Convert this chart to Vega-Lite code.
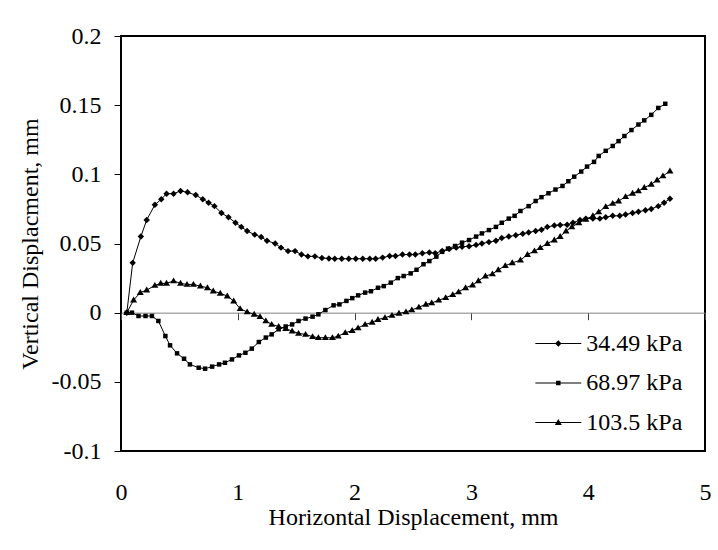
{
  "$schema": "https://vega.github.io/schema/vega-lite/v6.json",
  "width": 584,
  "height": 415,
  "autosize": "none",
  "padding": {"left": 121, "top": 36, "right": 13, "bottom": 99},
  "background": "white",
  "config": {
    "view": {"stroke": "black", "strokeWidth": 2},
    "font": "Liberation Serif",
    "axis": {"grid": false, "labelFont": "Liberation Serif", "titleFont": "Liberation Serif", "labelFontSize": 24, "titleFontSize": 24, "titleFontWeight": "normal", "labelColor": "black", "titleColor": "black"},
    "legend": {"labelFont": "Liberation Serif"}
  },
  "data": {"values": [
    {"series":"34.49 kPa","x":0.05,"y":0},
    {"series":"34.49 kPa","x":0.10,"y":0.036},
    {"series":"34.49 kPa","x":0.17,"y":0.055},
    {"series":"34.49 kPa","x":0.22,"y":0.067},
    {"series":"34.49 kPa","x":0.29,"y":0.078},
    {"series":"34.49 kPa","x":0.345,"y":0.082},
    {"series":"34.49 kPa","x":0.39,"y":0.086},
    {"series":"34.49 kPa","x":0.45,"y":0.086},
    {"series":"34.49 kPa","x":0.51,"y":0.088},
    {"series":"34.49 kPa","x":0.57,"y":0.087},
    {"series":"34.49 kPa","x":0.64,"y":0.085},
    {"series":"34.49 kPa","x":0.70,"y":0.082},
    {"series":"34.49 kPa","x":0.75,"y":0.0795},
    {"series":"34.49 kPa","x":0.80,"y":0.077},
    {"series":"34.49 kPa","x":0.86,"y":0.072},
    {"series":"34.49 kPa","x":0.92,"y":0.069},
    {"series":"34.49 kPa","x":0.98,"y":0.065},
    {"series":"34.49 kPa","x":1.03,"y":0.062},
    {"series":"34.49 kPa","x":1.08,"y":0.059},
    {"series":"34.49 kPa","x":1.145,"y":0.0564},
    {"series":"34.49 kPa","x":1.20,"y":0.0547},
    {"series":"34.49 kPa","x":1.25,"y":0.052},
    {"series":"34.49 kPa","x":1.32,"y":0.050},
    {"series":"34.49 kPa","x":1.37,"y":0.047},
    {"series":"34.49 kPa","x":1.43,"y":0.0445},
    {"series":"34.49 kPa","x":1.49,"y":0.0445},
    {"series":"34.49 kPa","x":1.545,"y":0.042},
    {"series":"34.49 kPa","x":1.60,"y":0.0407},
    {"series":"34.49 kPa","x":1.66,"y":0.0407},
    {"series":"34.49 kPa","x":1.72,"y":0.0395},
    {"series":"34.49 kPa","x":1.78,"y":0.0392},
    {"series":"34.49 kPa","x":1.83,"y":0.039},
    {"series":"34.49 kPa","x":1.89,"y":0.039},
    {"series":"34.49 kPa","x":1.95,"y":0.039},
    {"series":"34.49 kPa","x":2.01,"y":0.039},
    {"series":"34.49 kPa","x":2.07,"y":0.039},
    {"series":"34.49 kPa","x":2.13,"y":0.039},
    {"series":"34.49 kPa","x":2.18,"y":0.039},
    {"series":"34.49 kPa","x":2.24,"y":0.0398},
    {"series":"34.49 kPa","x":2.30,"y":0.041},
    {"series":"34.49 kPa","x":2.35,"y":0.041},
    {"series":"34.49 kPa","x":2.41,"y":0.042},
    {"series":"34.49 kPa","x":2.47,"y":0.042},
    {"series":"34.49 kPa","x":2.52,"y":0.042},
    {"series":"34.49 kPa","x":2.58,"y":0.043},
    {"series":"34.49 kPa","x":2.64,"y":0.0435},
    {"series":"34.49 kPa","x":2.69,"y":0.043},
    {"series":"34.49 kPa","x":2.75,"y":0.0446},
    {"series":"34.49 kPa","x":2.81,"y":0.046},
    {"series":"34.49 kPa","x":2.87,"y":0.047},
    {"series":"34.49 kPa","x":2.92,"y":0.0477},
    {"series":"34.49 kPa","x":2.98,"y":0.048},
    {"series":"34.49 kPa","x":3.04,"y":0.049},
    {"series":"34.49 kPa","x":3.09,"y":0.050},
    {"series":"34.49 kPa","x":3.15,"y":0.051},
    {"series":"34.49 kPa","x":3.21,"y":0.052},
    {"series":"34.49 kPa","x":3.26,"y":0.054},
    {"series":"34.49 kPa","x":3.32,"y":0.055},
    {"series":"34.49 kPa","x":3.38,"y":0.056},
    {"series":"34.49 kPa","x":3.44,"y":0.057},
    {"series":"34.49 kPa","x":3.49,"y":0.058},
    {"series":"34.49 kPa","x":3.55,"y":0.059},
    {"series":"34.49 kPa","x":3.60,"y":0.060},
    {"series":"34.49 kPa","x":3.65,"y":0.062},
    {"series":"34.49 kPa","x":3.71,"y":0.063},
    {"series":"34.49 kPa","x":3.76,"y":0.0634},
    {"series":"34.49 kPa","x":3.82,"y":0.0635},
    {"series":"34.49 kPa","x":3.87,"y":0.065},
    {"series":"34.49 kPa","x":3.93,"y":0.067},
    {"series":"34.49 kPa","x":3.98,"y":0.068},
    {"series":"34.49 kPa","x":4.04,"y":0.068},
    {"series":"34.49 kPa","x":4.10,"y":0.068},
    {"series":"34.49 kPa","x":4.15,"y":0.069},
    {"series":"34.49 kPa","x":4.21,"y":0.070},
    {"series":"34.49 kPa","x":4.27,"y":0.070},
    {"series":"34.49 kPa","x":4.32,"y":0.071},
    {"series":"34.49 kPa","x":4.38,"y":0.072},
    {"series":"34.49 kPa","x":4.43,"y":0.073},
    {"series":"34.49 kPa","x":4.49,"y":0.074},
    {"series":"34.49 kPa","x":4.54,"y":0.075},
    {"series":"34.49 kPa","x":4.60,"y":0.077},
    {"series":"34.49 kPa","x":4.65,"y":0.0795},
    {"series":"34.49 kPa","x":4.70,"y":0.0824},
    {"series":"68.97 kPa","x":0.05,"y":0},
    {"series":"68.97 kPa","x":0.094,"y":0},
    {"series":"68.97 kPa","x":0.15,"y":-0.0024},
    {"series":"68.97 kPa","x":0.21,"y":-0.0024},
    {"series":"68.97 kPa","x":0.265,"y":-0.0024},
    {"series":"68.97 kPa","x":0.32,"y":-0.006},
    {"series":"68.97 kPa","x":0.38,"y":-0.0169},
    {"series":"68.97 kPa","x":0.42,"y":-0.0236},
    {"series":"68.97 kPa","x":0.48,"y":-0.0294},
    {"series":"68.97 kPa","x":0.54,"y":-0.0333},
    {"series":"68.97 kPa","x":0.59,"y":-0.0374},
    {"series":"68.97 kPa","x":0.665,"y":-0.0398},
    {"series":"68.97 kPa","x":0.72,"y":-0.0405},
    {"series":"68.97 kPa","x":0.78,"y":-0.039},
    {"series":"68.97 kPa","x":0.84,"y":-0.0374},
    {"series":"68.97 kPa","x":0.89,"y":-0.0362},
    {"series":"68.97 kPa","x":0.95,"y":-0.0338},
    {"series":"68.97 kPa","x":1.01,"y":-0.0309},
    {"series":"68.97 kPa","x":1.065,"y":-0.029},
    {"series":"68.97 kPa","x":1.12,"y":-0.026},
    {"series":"68.97 kPa","x":1.18,"y":-0.0212},
    {"series":"68.97 kPa","x":1.24,"y":-0.018},
    {"series":"68.97 kPa","x":1.29,"y":-0.0157},
    {"series":"68.97 kPa","x":1.35,"y":-0.012},
    {"series":"68.97 kPa","x":1.41,"y":-0.010},
    {"series":"68.97 kPa","x":1.465,"y":-0.0085},
    {"series":"68.97 kPa","x":1.52,"y":-0.006},
    {"series":"68.97 kPa","x":1.58,"y":-0.0043},
    {"series":"68.97 kPa","x":1.64,"y":-0.0029},
    {"series":"68.97 kPa","x":1.69,"y":-0.0012},
    {"series":"68.97 kPa","x":1.75,"y":0.0019},
    {"series":"68.97 kPa","x":1.82,"y":0.0053},
    {"series":"68.97 kPa","x":1.87,"y":0.006},
    {"series":"68.97 kPa","x":1.93,"y":0.0085},
    {"series":"68.97 kPa","x":1.98,"y":0.0105},
    {"series":"68.97 kPa","x":2.03,"y":0.0125},
    {"series":"68.97 kPa","x":2.09,"y":0.0145},
    {"series":"68.97 kPa","x":2.14,"y":0.0155},
    {"series":"68.97 kPa","x":2.20,"y":0.018},
    {"series":"68.97 kPa","x":2.25,"y":0.0192},
    {"series":"68.97 kPa","x":2.31,"y":0.0217},
    {"series":"68.97 kPa","x":2.37,"y":0.025},
    {"series":"68.97 kPa","x":2.42,"y":0.0265},
    {"series":"68.97 kPa","x":2.48,"y":0.0284},
    {"series":"68.97 kPa","x":2.53,"y":0.031},
    {"series":"68.97 kPa","x":2.59,"y":0.035},
    {"series":"68.97 kPa","x":2.64,"y":0.0373},
    {"series":"68.97 kPa","x":2.70,"y":0.0405},
    {"series":"68.97 kPa","x":2.75,"y":0.044},
    {"series":"68.97 kPa","x":2.80,"y":0.0463},
    {"series":"68.97 kPa","x":2.86,"y":0.0482},
    {"series":"68.97 kPa","x":2.92,"y":0.0506},
    {"series":"68.97 kPa","x":2.98,"y":0.0525},
    {"series":"68.97 kPa","x":3.04,"y":0.055},
    {"series":"68.97 kPa","x":3.09,"y":0.0573},
    {"series":"68.97 kPa","x":3.15,"y":0.0597},
    {"series":"68.97 kPa","x":3.21,"y":0.062},
    {"series":"68.97 kPa","x":3.26,"y":0.065},
    {"series":"68.97 kPa","x":3.32,"y":0.068},
    {"series":"68.97 kPa","x":3.37,"y":0.070},
    {"series":"68.97 kPa","x":3.42,"y":0.0735},
    {"series":"68.97 kPa","x":3.49,"y":0.077},
    {"series":"68.97 kPa","x":3.55,"y":0.0807},
    {"series":"68.97 kPa","x":3.60,"y":0.0835},
    {"series":"68.97 kPa","x":3.66,"y":0.0863},
    {"series":"68.97 kPa","x":3.72,"y":0.089},
    {"series":"68.97 kPa","x":3.78,"y":0.0916},
    {"series":"68.97 kPa","x":3.83,"y":0.095},
    {"series":"68.97 kPa","x":3.88,"y":0.0983},
    {"series":"68.97 kPa","x":3.94,"y":0.102},
    {"series":"68.97 kPa","x":3.99,"y":0.1056},
    {"series":"68.97 kPa","x":4.05,"y":0.109},
    {"series":"68.97 kPa","x":4.09,"y":0.1133},
    {"series":"68.97 kPa","x":4.15,"y":0.117},
    {"series":"68.97 kPa","x":4.21,"y":0.1205},
    {"series":"68.97 kPa","x":4.26,"y":0.124},
    {"series":"68.97 kPa","x":4.31,"y":0.1277},
    {"series":"68.97 kPa","x":4.37,"y":0.132},
    {"series":"68.97 kPa","x":4.43,"y":0.136},
    {"series":"68.97 kPa","x":4.48,"y":0.139},
    {"series":"68.97 kPa","x":4.54,"y":0.143},
    {"series":"68.97 kPa","x":4.60,"y":0.148},
    {"series":"68.97 kPa","x":4.66,"y":0.151},
    {"series":"103.5 kPa","x":0.05,"y":0},
    {"series":"103.5 kPa","x":0.108,"y":0.0091},
    {"series":"103.5 kPa","x":0.165,"y":0.0145},
    {"series":"103.5 kPa","x":0.22,"y":0.0163},
    {"series":"103.5 kPa","x":0.29,"y":0.0197},
    {"series":"103.5 kPa","x":0.34,"y":0.0212},
    {"series":"103.5 kPa","x":0.39,"y":0.0212},
    {"series":"103.5 kPa","x":0.45,"y":0.0229},
    {"series":"103.5 kPa","x":0.51,"y":0.0212},
    {"series":"103.5 kPa","x":0.565,"y":0.0204},
    {"series":"103.5 kPa","x":0.62,"y":0.0204},
    {"series":"103.5 kPa","x":0.68,"y":0.0192},
    {"series":"103.5 kPa","x":0.74,"y":0.018},
    {"series":"103.5 kPa","x":0.79,"y":0.0156},
    {"series":"103.5 kPa","x":0.85,"y":0.014},
    {"series":"103.5 kPa","x":0.91,"y":0.012},
    {"series":"103.5 kPa","x":0.965,"y":0.0084},
    {"series":"103.5 kPa","x":1.02,"y":0.0029},
    {"series":"103.5 kPa","x":1.08,"y":0.0005},
    {"series":"103.5 kPa","x":1.14,"y":-0.0012},
    {"series":"103.5 kPa","x":1.19,"y":-0.0029},
    {"series":"103.5 kPa","x":1.24,"y":-0.006},
    {"series":"103.5 kPa","x":1.29,"y":-0.0085},
    {"series":"103.5 kPa","x":1.35,"y":-0.010},
    {"series":"103.5 kPa","x":1.41,"y":-0.0116},
    {"series":"103.5 kPa","x":1.465,"y":-0.0133},
    {"series":"103.5 kPa","x":1.52,"y":-0.015},
    {"series":"103.5 kPa","x":1.58,"y":-0.0157},
    {"series":"103.5 kPa","x":1.64,"y":-0.0174},
    {"series":"103.5 kPa","x":1.69,"y":-0.0181},
    {"series":"103.5 kPa","x":1.75,"y":-0.0181},
    {"series":"103.5 kPa","x":1.81,"y":-0.0181},
    {"series":"103.5 kPa","x":1.86,"y":-0.017},
    {"series":"103.5 kPa","x":1.92,"y":-0.0145},
    {"series":"103.5 kPa","x":1.98,"y":-0.013},
    {"series":"103.5 kPa","x":2.03,"y":-0.011},
    {"series":"103.5 kPa","x":2.09,"y":-0.0085},
    {"series":"103.5 kPa","x":2.15,"y":-0.007},
    {"series":"103.5 kPa","x":2.20,"y":-0.005},
    {"series":"103.5 kPa","x":2.26,"y":-0.0036},
    {"series":"103.5 kPa","x":2.32,"y":-0.002},
    {"series":"103.5 kPa","x":2.38,"y":-0.0005},
    {"series":"103.5 kPa","x":2.44,"y":0.0005},
    {"series":"103.5 kPa","x":2.49,"y":0.002},
    {"series":"103.5 kPa","x":2.55,"y":0.004},
    {"series":"103.5 kPa","x":2.61,"y":0.006},
    {"series":"103.5 kPa","x":2.66,"y":0.007},
    {"series":"103.5 kPa","x":2.72,"y":0.009},
    {"series":"103.5 kPa","x":2.78,"y":0.0108},
    {"series":"103.5 kPa","x":2.84,"y":0.013},
    {"series":"103.5 kPa","x":2.89,"y":0.015},
    {"series":"103.5 kPa","x":2.95,"y":0.018},
    {"series":"103.5 kPa","x":3.01,"y":0.020},
    {"series":"103.5 kPa","x":3.06,"y":0.023},
    {"series":"103.5 kPa","x":3.12,"y":0.0265},
    {"series":"103.5 kPa","x":3.18,"y":0.028},
    {"series":"103.5 kPa","x":3.23,"y":0.031},
    {"series":"103.5 kPa","x":3.29,"y":0.034},
    {"series":"103.5 kPa","x":3.35,"y":0.036},
    {"series":"103.5 kPa","x":3.42,"y":0.038},
    {"series":"103.5 kPa","x":3.48,"y":0.042},
    {"series":"103.5 kPa","x":3.54,"y":0.0446},
    {"series":"103.5 kPa","x":3.59,"y":0.047},
    {"series":"103.5 kPa","x":3.65,"y":0.050},
    {"series":"103.5 kPa","x":3.71,"y":0.0525},
    {"series":"103.5 kPa","x":3.76,"y":0.055},
    {"series":"103.5 kPa","x":3.81,"y":0.059},
    {"series":"103.5 kPa","x":3.86,"y":0.062},
    {"series":"103.5 kPa","x":3.92,"y":0.065},
    {"series":"103.5 kPa","x":3.98,"y":0.0675},
    {"series":"103.5 kPa","x":4.04,"y":0.070},
    {"series":"103.5 kPa","x":4.09,"y":0.0728},
    {"series":"103.5 kPa","x":4.15,"y":0.0766},
    {"series":"103.5 kPa","x":4.21,"y":0.079},
    {"series":"103.5 kPa","x":4.26,"y":0.0807},
    {"series":"103.5 kPa","x":4.32,"y":0.0838},
    {"series":"103.5 kPa","x":4.38,"y":0.0863},
    {"series":"103.5 kPa","x":4.43,"y":0.088},
    {"series":"103.5 kPa","x":4.48,"y":0.0904},
    {"series":"103.5 kPa","x":4.54,"y":0.0928},
    {"series":"103.5 kPa","x":4.59,"y":0.0959},
    {"series":"103.5 kPa","x":4.64,"y":0.0988},
    {"series":"103.5 kPa","x":4.70,"y":0.1024}
  ]},
  "encoding": {
    "y": {
      "field": "y", "type": "quantitative",
      "scale": {"domain": [-0.1, 0.2], "nice": false, "zero": false},
      "axis": {
        "values": [-0.1, -0.05, 0, 0.05, 0.1, 0.15, 0.2],
        "labelExpr": "replace(format(datum.value, '.2~f'), '\u2212', '-')",
        "labelFont": "Liberation Serif", "labelFontSize": 24,
        "domain": false, "ticks": true, "tickSize": 7, "tickColor": "black", "tickWidth": 1,
        "labelPadding": 13, "labelFlush": false,
        "title": "Vertical Displacment, mm", "titlePadding": 9
      }
    }
  },
  "layer": [
    {
      "mark": {"type": "line", "color": "black", "strokeWidth": 1},
      "encoding": {
        "x": {
          "field": "x", "type": "quantitative",
          "scale": {"domain": [0, 5], "nice": false},
          "axis": {"orient": "bottom", "domain": false, "ticks": false, "labelPadding": 29, "labelFont": "Liberation Serif", "labelFontSize": 24, "values": [0, 1, 2, 3, 4, 5], "format": "d", "labelFlush": false, "title": "Horizontal Displacement, mm", "titlePadding": 1}
        },
        "detail": {"field": "series", "type": "nominal"},
        "order": {"field": "x", "type": "quantitative"}
      }
    },
    {
      "mark": {"type": "point", "filled": true, "color": "black", "strokeWidth": 0, "size": 784, "opacity": 1},
      "encoding": {
        "x": {
          "field": "x", "type": "quantitative",
          "axis": {"orient": "bottom", "offset": -138.33, "labels": false, "ticks": true, "tickSize": 7, "tickColor": "#404040", "tickWidth": 1, "domain": true, "domainColor": "#808080", "domainWidth": 1, "values": [0, 1, 2, 3, 4, 5], "title": null}
        },
        "shape": {
          "field": "series", "type": "nominal",
          "scale": {
            "domain": ["34.49 kPa", "68.97 kPa", "103.5 kPa"],
            "range": [
              "M0,-0.23L0.23,0L0,0.23L-0.23,0Z",
              "M-0.16,-0.16L0.16,-0.16L0.16,0.16L-0.16,0.16Z",
              "M0,-0.25L0.25,0.17L-0.25,0.17Z"
            ]
          },
          "legend": null
        }
      }
    },
    {
      "transform": [{"filter": "false"}],
      "mark": {"type": "point", "filled": true, "color": "black", "strokeWidth": 0, "size": 784, "opacity": 1},
      "encoding": {
        "x": {"field": "x", "type": "quantitative", "axis": null},
        "shape": {
          "field": "series", "type": "nominal",
          "scale": {
            "domain": ["34.49 kPa", "68.97 kPa", "103.5 kPa"],
            "range": [
              "M-1.64,-0.036L1.64,-0.036L1.64,0.036L-1.64,0.036ZM0,-0.23L0.23,0L0,0.23L-0.23,0Z",
              "M-1.64,-0.036L1.64,-0.036L1.64,0.036L-1.64,0.036ZM-0.16,-0.16L0.16,-0.16L0.16,0.16L-0.16,0.16Z",
              "M-1.64,-0.036L1.64,-0.036L1.64,0.036L-1.64,0.036ZM0,-0.25L0.25,0.17L-0.25,0.17Z"
            ]
          },
          "legend": {
            "orient": "none", "legendX": 422.3, "legendY": 292.5, "title": null,
            "labelFont": "Liberation Serif", "labelFontSize": 24, "labelColor": "black", "labelOffset": 13, "labelLimit": 300,
            "symbolSize": 784, "rowPadding": 12.5, "padding": 0,
            "symbolFillColor": "black", "symbolOpacity": 1
          }
        }
      }
    }
  ],
  "resolve": {"axis": {"x": "independent"}, "scale": {"shape": "independent"}}
}
